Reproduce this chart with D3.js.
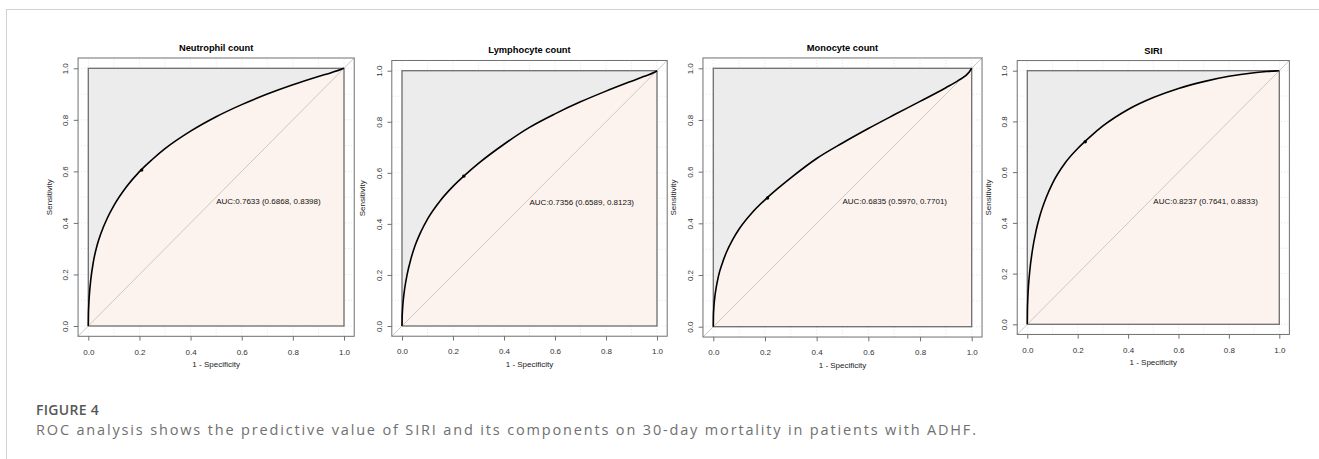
<!DOCTYPE html>
<html>
<head>
<meta charset="utf-8">
<script src="https://cdn.jsdelivr.net/npm/d3@7"></script>
<style>
  body { margin: 0; background: #fff; }
</style>
</head>
<body>
<script>
// chart data
const panelTitles = ["Neutrophil count", "Lymphocyte count", "Monocyte count", "SIRI"];
const aucLabels = [
  "AUC:0.7633 (0.6868, 0.8398)",
  "AUC:0.7356 (0.6589, 0.8123)",
  "AUC:0.6835 (0.5970, 0.7701)",
  "AUC:0.8237 (0.7641, 0.8833)"
];
const tickValues = [0, 0.2, 0.4, 0.6, 0.8, 1.0];

// 1 - specificity where the curves were read
const fpr = [0, 0.0005, 0.002, 0.005, 0.01, 0.02, 0.035, 0.05, 0.075, 0.1, 0.15, 0.2, 0.25, 0.3,
  0.4, 0.5, 0.6, 0.7, 0.8, 0.9, 0.95, 0.99, 1];

// sensitivity
const neutrophilTpr = [0, 0.042, 0.084, 0.131, 0.182, 0.250, 0.315, 0.361, 0.420, 0.467, 0.541, 0.599, 0.646, 0.688,
  0.756, 0.812, 0.859, 0.900, 0.936, 0.968, 0.983, 0.996, 1];
const lymphocyteTpr = [0, 0.030, 0.063, 0.101, 0.143, 0.201, 0.263, 0.311, 0.371, 0.419, 0.491, 0.547, 0.594, 0.637,
  0.712, 0.778, 0.831, 0.878, 0.920, 0.959, 0.978, 0.994, 1];
const monocyteTpr = [0, 0.040, 0.072, 0.107, 0.144, 0.196, 0.246, 0.286, 0.337, 0.378, 0.441, 0.491, 0.535, 0.576,
  0.651, 0.711, 0.767, 0.820, 0.872, 0.925, 0.954, 0.985, 1];
const siriTpr = [0, 0.051, 0.101, 0.155, 0.212, 0.290, 0.370, 0.428, 0.500, 0.556, 0.636, 0.693, 0.740, 0.782,
  0.847, 0.894, 0.930, 0.957, 0.978, 0.992, 0.997, 0.9995, 1];

// best threshold points
const cutoffFpr = [0.209, 0.242, 0.21, 0.23];
const cutoffTpr = [0.605, 0.587, 0.498, 0.72];

const figureLabel = "FIGURE 4";
const captionText = "ROC analysis shows the predictive value of SIRI and its components on 30-day mortality in patients with ADHF.";

const tprs = [neutrophilTpr, lymphocyteTpr, monocyteTpr, siriTpr];

// pixel boxes of the [0,1] square in each panel
const boxes = [
  { left: 88.3, right: 344, top: 68.3, bottom: 326 },
  { left: 402, right: 657, top: 70.7, bottom: 326 },
  { left: 713.3, right: 971.7, top: 68.3, bottom: 326.7 },
  { left: 1027.3, right: 1279.3, top: 70.7, bottom: 324.3 }
];

const font = "'Liberation Sans', Arial, Helvetica, sans-serif";

let svg = d3.select("body")
  .append("svg")
  .attr("width", 1319)
  .attr("height", 459);

// page frame
svg.append("line")
  .attr("x1", 6).attr("y1", 9.5).attr("x2", 1319).attr("y2", 9.5)
  .attr("stroke", "#d2d2d2").attr("stroke-width", 1);
svg.append("line")
  .attr("x1", 6.5).attr("y1", 9).attr("x2", 6.5).attr("y2", 459)
  .attr("stroke", "#d2d2d2").attr("stroke-width", 1);

for (let i = 0; i < 4; i++) {
  const b = boxes[i];
  let x = d3.scaleLinear().domain([0, 1]).range([b.left, b.right]);
  let y = d3.scaleLinear().domain([0, 1]).range([b.bottom, b.top]);
  const points = fpr.map((f, k) => [f, tprs[i][k]]);

  let g = svg.append("g").attr("class", "panel" + i);

  // dotted grid
  let grid = g.append("g");
  for (let k = 0; k <= 10; k++) {
    grid.append("line")
      .attr("x1", x(k / 10)).attr("x2", x(k / 10))
      .attr("y1", y(-0.04)).attr("y2", y(1.04))
      .attr("stroke", "#e3e3e3").attr("stroke-dasharray", "1,2");
    grid.append("line")
      .attr("x1", x(-0.04)).attr("x2", x(1.04))
      .attr("y1", y(k / 10)).attr("y2", y(k / 10))
      .attr("stroke", "#e3e3e3").attr("stroke-dasharray", "1,2");
  }

  // max auc polygon
  g.append("rect")
    .attr("x", x(0)).attr("y", y(1))
    .attr("width", x(1) - x(0)).attr("height", y(0) - y(1))
    .attr("fill", "#ececec");

  // auc polygon
  let area = d3.area()
    .x(d => x(d[0]))
    .y0(y(0))
    .y1(d => y(d[1]))
    .curve(d3.curveMonotoneX);
  g.append("path")
    .attr("d", area(points))
    .attr("fill", "#fdf3ee");

  g.append("rect")
    .attr("x", x(0)).attr("y", y(1))
    .attr("width", x(1) - x(0)).attr("height", y(0) - y(1))
    .attr("fill", "none")
    .attr("stroke", "#6e6e6e")
    .attr("stroke-width", 1.3);

  // identity line over the whole plot region
  g.append("line")
    .attr("x1", x(-0.04)).attr("y1", y(-0.04))
    .attr("x2", x(1.04)).attr("y2", y(1.04))
    .attr("stroke", "#cdc8c4").attr("stroke-width", 1);

  let line = d3.line()
    .x(d => x(d[0]))
    .y(d => y(d[1]))
    .curve(d3.curveMonotoneX);
  g.append("path")
    .attr("d", line(points))
    .attr("fill", "none")
    .attr("stroke", "#000")
    .attr("stroke-width", 1.6);

  g.append("circle")
    .attr("cx", x(cutoffFpr[i]))
    .attr("cy", y(cutoffTpr[i]))
    .attr("r", 1.7)
    .attr("fill", "#000");

  // outer box
  g.append("rect")
    .attr("x", x(-0.04)).attr("y", y(1.04))
    .attr("width", x(1.04) - x(-0.04)).attr("height", y(-0.04) - y(1.04))
    .attr("fill", "none")
    .attr("stroke", "#707070")
    .attr("stroke-width", 1);

  // axes
  let xAxis = g.append("g")
    .attr("transform", `translate(0,${y(-0.04)})`)
    .call(d3.axisBottom(x)
      .tickValues(tickValues)
      .tickSize(4.3)
      .tickPadding(8.3)
      .tickFormat(d3.format(".1f")));
  let yAxis = g.append("g")
    .attr("transform", `translate(${x(-0.04)},0)`)
    .call(d3.axisLeft(y)
      .tickValues(tickValues)
      .tickSize(4.3)
      .tickFormat(d3.format(".1f")));
  for (let ax of [xAxis, yAxis]) {
    ax.select(".domain").remove();
    ax.attr("font-family", font).attr("font-size", 8);
    ax.selectAll("line").attr("stroke", "#707070");
    ax.selectAll("text").attr("fill", "#333");
  }
  yAxis.selectAll("text")
    .attr("transform", "rotate(-90)")
    .attr("x", 0)
    .attr("y", -10.3)
    .attr("dy", null)
    .attr("text-anchor", "middle");

  // labels
  g.append("text")
    .attr("x", x(0.5))
    .attr("y", y(1.04) - 7)
    .attr("text-anchor", "middle")
    .attr("font-family", font)
    .attr("font-size", 9.3)
    .attr("font-weight", "bold")
    .text(panelTitles[i]);

  g.append("text")
    .attr("x", x(0.5))
    .attr("y", y(-0.04) + 31)
    .attr("text-anchor", "middle")
    .attr("font-family", font)
    .attr("font-size", 8)
    .attr("fill", "#222")
    .text("1 - Specificity");

  g.append("text")
    .attr("transform", `translate(${x(-0.04) - 26.5},${y(0.5)}) rotate(-90)`)
    .attr("text-anchor", "middle")
    .attr("font-family", font)
    .attr("font-size", 8)
    .attr("fill", "#222")
    .text("Sensitivity");

  g.append("text")
    .attr("x", x(0.5))
    .attr("y", y(0.5) + 6.5)
    .attr("font-family", font)
    .attr("font-size", 8)
    .attr("fill", "#111")
    .text(aucLabels[i]);
}

// caption
svg.append("text")
  .attr("x", 36)
  .attr("y", 415)
  .attr("font-family", "'Open Sans', sans-serif")
  .attr("font-size", 14)
  .attr("font-weight", 600)
  .attr("letter-spacing", 0.3)
  .attr("fill", "#575757")
  .text(figureLabel);

svg.append("text")
  .attr("x", 36)
  .attr("y", 435)
  .attr("font-family", "'Open Sans', sans-serif")
  .attr("font-size", 14.5)
  .attr("textLength", 940)
  .attr("lengthAdjust", "spacing")
  .attr("fill", "#707070")
  .text(captionText);
</script>
</body>
</html>
